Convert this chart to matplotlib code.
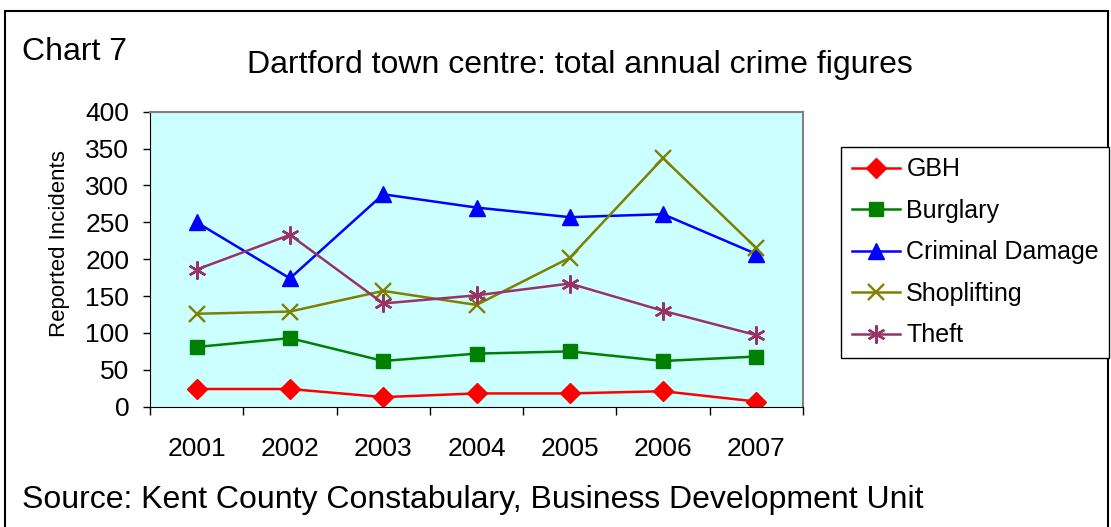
import matplotlib.pyplot as plt
from matplotlib.patches import Rectangle

plt.rcParams['font.family'] = ['Liberation Sans', 'DejaVu Sans']

years = ['2001', '2002', '2003', '2004', '2005', '2006', '2007']
gbh = [24, 24, 13, 18, 18, 21, 7]
burglary = [81, 93, 62, 72, 75, 62, 68]
criminal_damage = [250, 174, 288, 270, 257, 261, 207]
shoplifting = [126, 129, 157, 138, 202, 337, 215]
theft = [186, 233, 140, 151, 167, 130, 97]

series = [
    ('GBH', gbh, '#FF0000', 'D', 10),
    ('Burglary', burglary, '#008000', 's', 10),
    ('Criminal Damage', criminal_damage, '#0000FF', '^', 12),
    ('Shoplifting', shoplifting, '#808000', 'x', 12),
    ('Theft', theft, '#993366', (6, 2, 0), 13),
]

fig = plt.figure(figsize=(11.11, 5.27), dpi=100)
ax = fig.add_axes([150/1111, 1 - 406.7/527, 653/1111, 295/527])
ax.set_facecolor('#CCFFFF')

x = list(range(1, len(years) + 1))
for name, vals, col, mk, ms in series:
    ax.plot(x, vals, color=col, lw=1.8, marker=mk, markersize=ms,
            markeredgewidth=1.7 if mk in ('x', (6, 2, 0)) else 1,
            label=name)

ax.set_xlim(0.5, 7.5)
ax.set_ylim(0, 400)
ax.set_yticks(range(0, 401, 50))
ax.tick_params(axis='y', labelsize=19, length=5, width=1, pad=10, direction='out')
ax.set_xticks([i + 0.5 for i in range(0, 8)])
ax.set_xticklabels([])
ax.set_xticks(x, minor=True)
ax.set_xticklabels(years, minor=True)
ax.tick_params(axis='x', which='major', length=6, width=1, direction='out')
ax.tick_params(axis='x', which='minor', length=0, labelsize=19, pad=22)
ax.set_ylabel('Reported Incidents', fontsize=16)
ax.yaxis.set_label_coords((59 - 150) / 653, (406.7 - 244) / 295)
ax.yaxis.label.set_va('center')

for s in ('top', 'right'):
    ax.spines[s].set_color('#808080')
    ax.spines[s].set_linewidth(1.5)
for s in ('left', 'bottom'):
    ax.spines[s].set_color('black')

leg = fig.legend(loc='upper left', bbox_to_anchor=(841/1111, 1 - 147/527),
                 fontsize=18, frameon=True, fancybox=False, edgecolor='black',
                 framealpha=1, handlelength=1.95, handletextpad=0.24,
                 labelspacing=0.7, borderpad=0.42, borderaxespad=0)
leg.get_frame().set_linewidth(1)

fig.text(22/1111, 1 - 52/527, 'Chart 7', fontsize=23, va='center', ha='left')
fig.text(580/1111, 1 - 65/527, 'Dartford town centre: total annual crime figures',
         fontsize=23, va='center', ha='center')
fig.text(22/1111, 1 - 500/527,
         'Source: Kent County Constabulary, Business Development Unit',
         fontsize=23, va='center', ha='left')

fig.patches.append(Rectangle((5/1111, -0.05), 1103/1111, 1.05 - 11/527,
                             transform=fig.transFigure, fill=False,
                             edgecolor='black', lw=1.5, zorder=0))

fig.savefig('out.png', dpi=100)
